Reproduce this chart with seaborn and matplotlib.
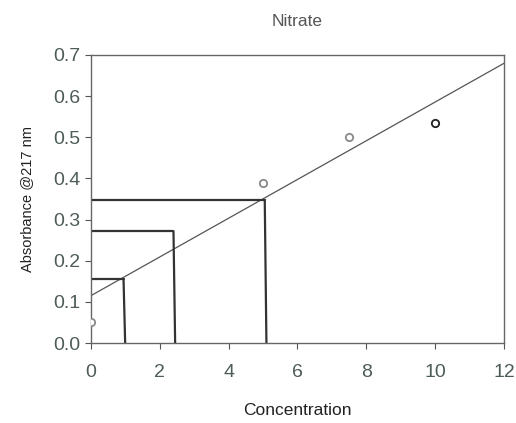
import numpy as np
import pandas as pd
import matplotlib
matplotlib.use("Agg")
import matplotlib.pyplot as plt
import seaborn as sns

# measured points
conc = [0, 5, 7.5, 10]
absorb = [0.05, 0.39, 0.50, 0.535]
point_colors = ["#8a8a8a", "#8a8a8a", "#8a8a8a", "#222222"]

# trend line
fit_x = [0, 12]
fit_y = [0.115, 0.68]

# hand-drawn read-off lines (absorbance -> concentration)
read_abs = [0.155, 0.272, 0.347]
read_conc = [0.95, 2.4, 5.05]

sns.set_style("white")
plt.rcParams["font.family"] = ["Liberation Sans", "DejaVu Sans"]

fig = plt.figure(figsize=(5.16, 4.23), dpi=100)
ax = fig.add_axes([0.176, 0.189, 0.801, 0.681])

tick_col = "#4e5c58"

sns.lineplot(x=fit_x, y=fit_y, ax=ax, color="#555555", linewidth=0.9)

for a, c in zip(read_abs, read_conc):
    sns.lineplot(x=[0, c], y=[a, a], ax=ax, color="#333333", linewidth=1.6, sort=False)
    sns.lineplot(x=[c, c + 0.05], y=[a, -0.01], ax=ax, color="#333333", linewidth=1.6,
                 sort=False)

df = pd.DataFrame({"Concentration": conc, "Absorbance": absorb})
for i, row in df.iterrows():
    ax.scatter(row["Concentration"], row["Absorbance"], s=28, facecolors="white",
               edgecolors=point_colors[i], linewidths=1.3, zorder=5)

ax.set_xlim(0, 12)
ax.set_ylim(0, 0.7)
ax.set_xticks(range(0, 13, 2))
ax.set_yticks(np.arange(0, 0.71, 0.1))
ax.set_yticklabels([f"{v:.1f}" for v in np.arange(0, 0.71, 0.1)])
ax.tick_params(axis="both", colors="#555555", labelcolor=tick_col, labelsize=14,
               direction="out", length=4, width=0.8, bottom=True, left=True)
ax.tick_params(axis="x", pad=11)
for s in ax.spines.values():
    s.set_color("#666666")
    s.set_linewidth(1.0)

ax.set_title("Nitrate", fontsize=12.5, color="#555555", pad=21)
ax.set_xlabel("Concentration", fontsize=12.5, color="#222222", labelpad=16)
ax.set_ylabel("Absorbance @217 nm", fontsize=10.5, color="#222222", labelpad=14)

fig.savefig("out.png", dpi=100)
